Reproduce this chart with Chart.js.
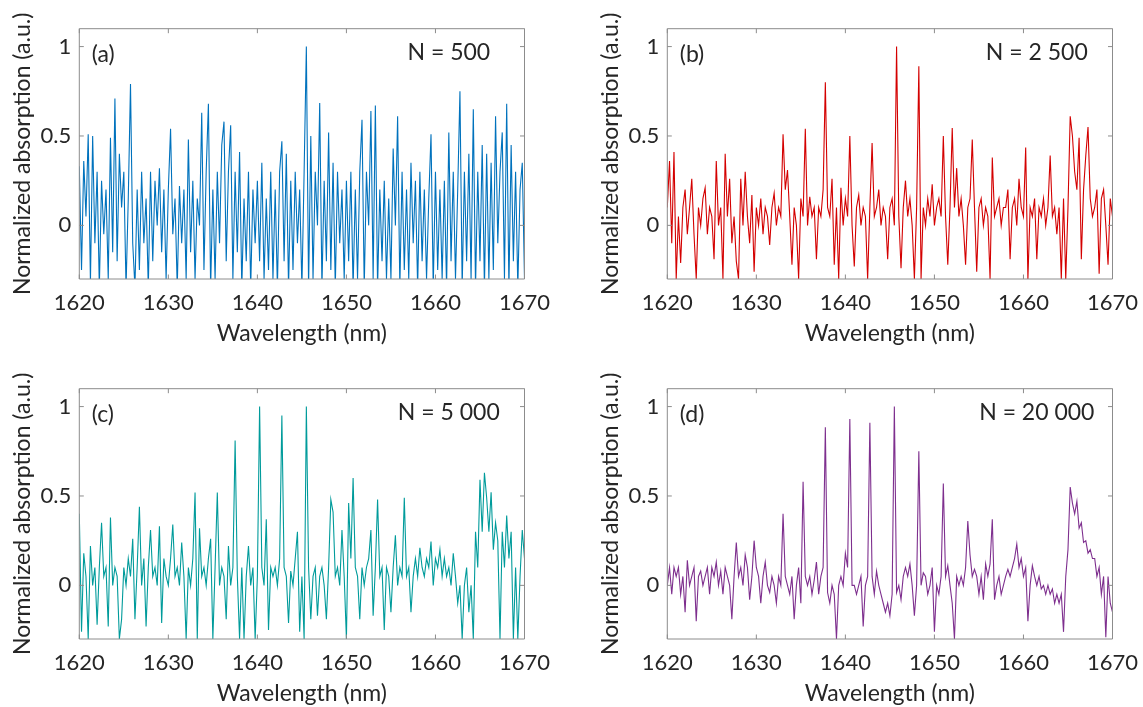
<!DOCTYPE html>
<html>
<head>
<meta charset="utf-8">
<script src="https://cdn.jsdelivr.net/npm/chart.js@4.4.1/dist/chart.umd.min.js"></script>
<style>
  body { margin: 0; width: 1143px; height: 707px; overflow: hidden; background: #fff; }
  canvas { position: absolute; }
</style>
</head>
<body>
<canvas id="pa" width="555" height="347" style="left:0;top:0"></canvas>
<canvas id="pb" width="555" height="347" style="left:588px;top:0"></canvas>
<canvas id="pc" width="555" height="347" style="left:0;top:360px"></canvas>
<canvas id="pd" width="555" height="347" style="left:588px;top:360px"></canvas>
<script>
// sampling of the spectra (nm)
const startNm = 1620;
const stepNm = 0.25;
const wavelengthTicks = [1620, 1630, 1640, 1650, 1660, 1670];
const absorptionTicks = [0, 0.5, 1];

// N = 500, one row per nm (x.00, x.25, x.50, x.75)
const absorptionN500 = [
  0.33, -0.25, 0.36, 0.05,   // 1620
  0.51, -0.32, 0.50, -0.1,
  0.3, -0.35, 0.25, -0.05,
  0.2, -0.3, 0.49, -0.15,
  0.71, -0.2, 0.40, 0.1,
  0.3, -0.35, 0.15, 0.79,    // 1625
  -0.1, -0.35, 0.2, -0.25,
  0.3, -0.1, 0.15, -0.35,
  0.3, -0.2, 0.25, 0.0,
  0.32, -0.15, 0.2, -0.3,
  0.2, 0.54, -0.05, 0.15,    // 1630
  -0.35, 0.22, -0.1, 0.2,
  -0.3, 0.48, -0.15, 0.25,
  -0.3, 0.15, 0.0, 0.63,
  -0.25, 0.3, 0.68, -0.35,
  0.2, -0.3, 0.3, -0.1,      // 1635
  0.45, 0.58, -0.2, 0.3,
  0.56, -0.3, 0.3, -0.15,
  0.41, -0.35, 0.15, -0.2,
  0.3, -0.35, 0.2, -0.1,
  0.25, -0.2, 0.35, -0.3,    // 1640
  0.15, -0.25, 0.3, -0.3,
  0.2, -0.35, 0.3, 0.47,
  -0.2, 0.4, -0.35, 0.25,
  -0.25, 0.3, -0.1, 0.2,
  -0.35, 0.3, 1.0, -0.35,    // 1645
  0.5, -0.3, 0.3, 0.0,
  0.685, -0.35, 0.25, -0.2,
  0.52, -0.25, 0.35, -0.35,
  0.3, -0.1, 0.2, -0.3,
  0.25, -0.2, 0.3, -0.35,    // 1650
  0.2, -0.3, 0.3, 0.59,
  -0.35, 0.3, 0.0, 0.64,
  -0.3, 0.67, -0.35, 0.2,
  -0.2, 0.25, -0.3, 0.15,
  -0.3, 0.43, 0.0, 0.61,     // 1655
  -0.35, 0.3, -0.25, 0.2,
  -0.3, 0.35, -0.1, 0.25,
  -0.35, 0.3, -0.2, 0.2,
  -0.3, 0.15, 0.51, -0.35,
  0.3, -0.25, 0.2, -0.3,     // 1660
  0.25, -0.35, 0.52, -0.2,
  0.3, -0.3, 0.2, 0.75,
  -0.35, 0.3, -0.2, 0.4,
  -0.3, 0.65, -0.35, 0.3,
  -0.2, 0.45, -0.35, 0.4,    // 1665
  -0.3, 0.35, -0.25, 0.61,
  -0.1, 0.3, 0.52, -0.3,
  0.68, -0.35, 0.45, -0.2,
  0.3, -0.35, 0.2, 0.35,
  -0.3                       // 1670
];

// N = 2 500
const absorptionN2500 = [
  0.1, 0.36, -0.1, 0.41,     // 1620
  -0.3, 0.05, -0.21, 0.1,
  0.2, -0.05, 0.1, 0.26,
  -0.05, -0.3, 0.1, 0.0,
  0.15, 0.21, -0.05, 0.1,
  0.05, -0.19, 0.36, 0.0,    // 1625
  0.1, -0.3, 0.40, 0.05,
  0.26, -0.1, 0.05, -0.2,
  -0.3, 0.26, 0.0, 0.3,
  0.05, -0.1, 0.17, -0.26,
  0.1, 0.0, 0.15, -0.05,     // 1630
  0.1, 0.05, -0.11, 0.1,
  0.18, 0.0, 0.1, 0.05,
  0.51, 0.2, 0.31, 0.05,
  -0.22, 0.1, 0.0, -0.3,
  0.15, 0.05, 0.54, 0.0,     // 1635
  0.16, 0.05, 0.1, -0.19,
  0.1, 0.05, 0.2, 0.80,
  0.1, 0.05, 0.26, -0.22,
  0.1, -0.3, 0.21, 0.0,
  0.15, 0.05, 0.5, 0.0,      // 1640
  -0.23, 0.1, 0.17, 0.0,
  0.1, 0.05, -0.3, 0.1,
  0.46, 0.05, 0.1, 0.2,
  0.0, 0.1, 0.05, -0.19,
  0.1, 0.15, 0.0, 1.0,       // 1645
  0.05, -0.24, 0.1, 0.25,
  0.05, 0.15, 0.0, -0.3,
  0.1, 0.89, -0.3, 0.1,
  0.0, 0.15, 0.05, 0.23,
  0.0, 0.1, 0.15, 0.05,      // 1650
  0.5, 0.05, -0.22, 0.1,
  0.545, 0.1, 0.32, 0.05,
  0.15, 0.0, -0.22, 0.1,
  0.15, 0.48, 0.1, -0.26,
  0.1, 0.15, 0.0, 0.1,       // 1655
  0.05, -0.3, 0.38, 0.05,
  0.1, 0.15, 0.0, 0.1,
  0.1, 0.2, -0.19, 0.1,
  0.15, 0.0, 0.26, 0.1,
  0.05, 0.435, -0.3, 0.1,    // 1660
  0.05, 0.15, -0.19, 0.1,
  0.05, 0.15, 0.0, 0.1,
  0.39, 0.05, 0.1, -0.05,
  0.1, -0.3, 0.15, -0.3,
  0.1, 0.61, 0.5, 0.3,       // 1665
  0.2, 0.49, -0.19, 0.2,
  0.39, 0.55, 0.15, 0.05,
  0.1, 0.2, -0.27, 0.15,
  0.2, 0.0, -0.22, 0.15,
  0.05                       // 1670
];

// N = 5 000
const absorptionN5000 = [
  0.40, -0.26, 0.18, 0.05,   // 1620
  -0.3, 0.22, 0.0, 0.1,
  -0.22, 0.1, 0.35, 0.05,
  0.1, -0.23, 0.38, 0.0,
  0.1, 0.05, -0.3, -0.19,
  0.1, 0.0, 0.15, 0.05,      // 1625
  0.26, -0.19, 0.1, 0.44,
  0.0, 0.15, -0.23, 0.1,
  0.31, 0.05, 0.1, 0.0,
  0.33, -0.21, 0.15, 0.05,
  0.0, 0.15, 0.34, 0.05,     // 1630
  0.1, 0.0, 0.24, 0.05,
  -0.3, 0.1, 0.0, 0.15,
  0.52, -0.3, 0.32, 0.05,
  0.1, 0.0, 0.15, 0.26,
  -0.3, 0.1, 0.52, 0.0,      // 1635
  0.1, 0.05, -0.19, 0.22,
  0.0, 0.1, 0.81, 0.05,
  -0.3, 0.1, -0.3, 0.05,
  0.22, 0.0, 0.1, -0.3,
  0.05, 1.0, 0.1, 0.0,       // 1640
  0.37, -0.25, 0.1, 0.05,
  0.1, 0.0, 0.15, 0.95,
  0.1, 0.05, -0.21, 0.08,
  0.0, 0.15, 0.3, -0.26,
  0.05, -0.3, 1.0, 0.1,      // 1645
  -0.19, 0.05, 0.1, -0.17,
  0.05, 0.1, 0.0, -0.19,
  0.1, 0.48, 0.41, 0.05,
  0.1, 0.0, 0.31, 0.05,
  -0.3, 0.46, 0.15, 0.6,     // 1650
  0.1, 0.05, -0.19, 0.1,
  0.0, 0.1, 0.15, 0.31,
  -0.17, 0.1, 0.48, 0.05,
  0.1, -0.25, 0.1, 0.05,
  -0.15, 0.1, 0.28, 0.0,     // 1655
  0.1, 0.05, 0.49, 0.05,
  0.1, -0.15, 0.05, 0.15,
  0.05, 0.21, 0.1, 0.05,
  0.15, 0.1, 0.245, 0.0,
  0.15, 0.1, 0.2, 0.05,      // 1660
  0.15, 0.05, 0.1, 0.0,
  0.18, 0.05, -0.1, 0.0,
  -0.3, 0.0, 0.1, -0.15,
  0.0, -0.3, 0.3, 0.1,
  0.59, 0.3, 0.63, 0.49,     // 1665
  0.3, 0.52, 0.2, 0.35,
  0.25, -0.3, 0.3, 0.1,
  0.39, 0.15, 0.3, -0.3,
  0.1, -0.3, 0.05, 0.31,
  0.15                       // 1670
];

// N = 20 000
const absorptionN20000 = [
  0.0, 0.1, -0.05, 0.1,      // 1620
  0.05, 0.1, -0.05, 0.05,
  -0.15, 0.14, 0.0, 0.05,
  0.1, -0.2, 0.05, 0.08,
  0.0, 0.05, 0.1, -0.05,
  0.1, 0.05, 0.13, 0.0,      // 1625
  0.08, -0.05, 0.1, 0.05,
  0.0, -0.19, 0.05, 0.24,
  0.05, 0.1, 0.0, 0.17,
  0.1, -0.08, 0.05, 0.25,
  0.1, 0.05, -0.1, 0.05,     // 1630
  0.13, 0.0, -0.04, 0.05,
  0.0, -0.1, 0.05, 0.0,
  0.40, 0.05, 0.0, -0.05,
  0.05, -0.19, 0.0, 0.1,
  -0.1, 0.58, 0.05, 0.0,     // 1635
  0.05, -0.05, 0.03, 0.13,
  -0.05, 0.05, 0.1, 0.885,
  -0.04, -0.1, 0.0, -0.05,
  -0.3, 0.0, 0.05, 0.0,
  0.18, 0.1, 0.93, 0.0,      // 1640
  0.0, -0.05, 0.0, 0.05,
  -0.23, 0.0, 0.05, 0.91,
  0.05, -0.05, 0.08, 0.0,
  -0.05, -0.1, -0.15, -0.1,
  -0.17, -0.05, 1.0, -0.04,  // 1645
  0.0, -0.08, 0.05, 0.1,
  0.05, 0.12, 0.0, -0.17,
  0.0, 0.75, 0.0, 0.07,
  0.05, -0.05, 0.0, 0.1,
  -0.26, 0.0, -0.05, 0.05,   // 1650
  0.57, 0.05, 0.11, 0.0,
  -0.1, -0.3, 0.05, 0.0,
  0.05, 0.0, 0.1, 0.36,
  0.17, 0.05, 0.09, 0.05,
  -0.05, 0.05, -0.08, 0.12,  // 1655
  0.05, 0.12, 0.37, -0.08,
  0.0, 0.05, -0.05, 0.0,
  0.05, 0.09, 0.05, 0.1,
  0.15, 0.23, 0.1, 0.15,
  0.05, 0.1, -0.2, 0.0,      // 1660
  0.11, 0.05, 0.0, 0.05,
  -0.02, 0.0, -0.05, 0.0,
  -0.05, -0.02, -0.1, -0.05,
  -0.1, -0.05, -0.26, 0.05,
  0.2, 0.55, 0.46, 0.4,      // 1665
  0.47, 0.32, 0.35, 0.24,
  0.25, 0.18, 0.2, 0.15,
  0.15, 0.05, 0.1, -0.05,
  0.05, -0.29, 0.05, -0.1,
  -0.15                      // 1670
];

const panelTags = ['(a)', '(b)', '(c)', '(d)'];
const shotLabels = ['N = 500', 'N = 2 500', 'N = 5 000', 'N = 20 000'];
const lineColors = ['#0072BD', '#D40000', '#009B9B', '#7E2F8E'];

const textColor = '#262626';
const fontFamily = 'Lato, "Noto Sans", sans-serif';
const tickSize = 22;
const textSize = 23;

const wavelengths = absorptionN500.map((_, i) => startNm + i * stepNm);

// box around the axes with inward ticks, plus the panel annotations
const framePlugin = {
  id: 'frame',
  afterDatasetsDraw(chart, args, opts) {
    const { ctx, chartArea: a, scales: { x, y } } = chart;
    const tl = 4.5;
    ctx.save();
    ctx.strokeStyle = '#8c8c8c';
    ctx.lineWidth = 1;
    ctx.beginPath();
    ctx.rect(a.left, a.top, a.right - a.left, a.bottom - a.top);
    wavelengthTicks.forEach(v => {
      const px = x.getPixelForValue(v);
      ctx.moveTo(px, a.bottom); ctx.lineTo(px, a.bottom - tl);
      ctx.moveTo(px, a.top); ctx.lineTo(px, a.top + tl);
    });
    absorptionTicks.forEach(v => {
      const py = y.getPixelForValue(v);
      ctx.moveTo(a.left, py); ctx.lineTo(a.left + tl, py);
      ctx.moveTo(a.right, py); ctx.lineTo(a.right - tl, py);
    });
    ctx.stroke();
    ctx.fillStyle = textColor;
    ctx.font = textSize + 'px ' + fontFamily;
    ctx.textBaseline = 'middle';
    ctx.textAlign = 'left';
    ctx.fillText(opts.tag, x.getPixelForValue(1621.4), y.getPixelForValue(0.955));
    ctx.textAlign = 'center';
    ctx.fillText(opts.shots, x.getPixelForValue(1661.5), y.getPixelForValue(0.965));
    ctx.restore();
  }
};

function makePanel(id, values, color, tag, shots) {
  const tickFont = { family: fontFamily, size: tickSize };
  const titleFont = { family: fontFamily, size: textSize };
  return new Chart(document.getElementById(id), {
    type: 'line',
    data: {
      datasets: [{
        data: values.map((v, i) => ({ x: wavelengths[i], y: v })),
        borderColor: color,
        borderWidth: 1.1,
        pointRadius: 0,
        tension: 0,
        fill: false
      }]
    },
    options: {
      responsive: false,
      animation: false,
      layout: { padding: { top: 28.7, right: 30.5, left: 0, bottom: 0 } },
      plugins: {
        legend: { display: false },
        tooltip: { enabled: false },
        frame: { tag: tag, shots: shots }
      },
      scales: {
        x: {
          type: 'linear',
          min: 1620, max: 1670,
          afterBuildTicks: s => { s.ticks = wavelengthTicks.map(v => ({ value: v })); },
          afterFit: s => { s.height = 68; s.paddingLeft = 0; s.paddingRight = 0; },
          grid: { display: false, drawTicks: false },
          border: { display: false },
          ticks: { font: tickFont, color: textColor, padding: 11, maxRotation: 0, autoSkip: false, callback: v => String(v) },
          title: { display: true, text: 'Wavelength (nm)', font: titleFont, color: textColor, padding: { top: 0, bottom: 0 } }
        },
        y: {
          min: -0.3, max: 1.1,
          afterBuildTicks: s => { s.ticks = absorptionTicks.map(v => ({ value: v })); },
          afterFit: s => { s.width = 79.3; s.paddingTop = 0; s.paddingBottom = 0; },
          grid: { display: false, drawTicks: false },
          border: { display: false },
          ticks: { font: tickFont, color: textColor, padding: 8, autoSkip: false, callback: v => String(v) },
          title: { display: true, text: 'Normalized absorption (a.u.)', font: titleFont, color: textColor, padding: { top: 9, bottom: 0 } }
        }
      }
    },
    plugins: [framePlugin]
  });
}

makePanel('pa', absorptionN500, lineColors[0], panelTags[0], shotLabels[0]);
makePanel('pb', absorptionN2500, lineColors[1], panelTags[1], shotLabels[1]);
makePanel('pc', absorptionN5000, lineColors[2], panelTags[2], shotLabels[2]);
makePanel('pd', absorptionN20000, lineColors[3], panelTags[3], shotLabels[3]);
</script>
</body>
</html>
